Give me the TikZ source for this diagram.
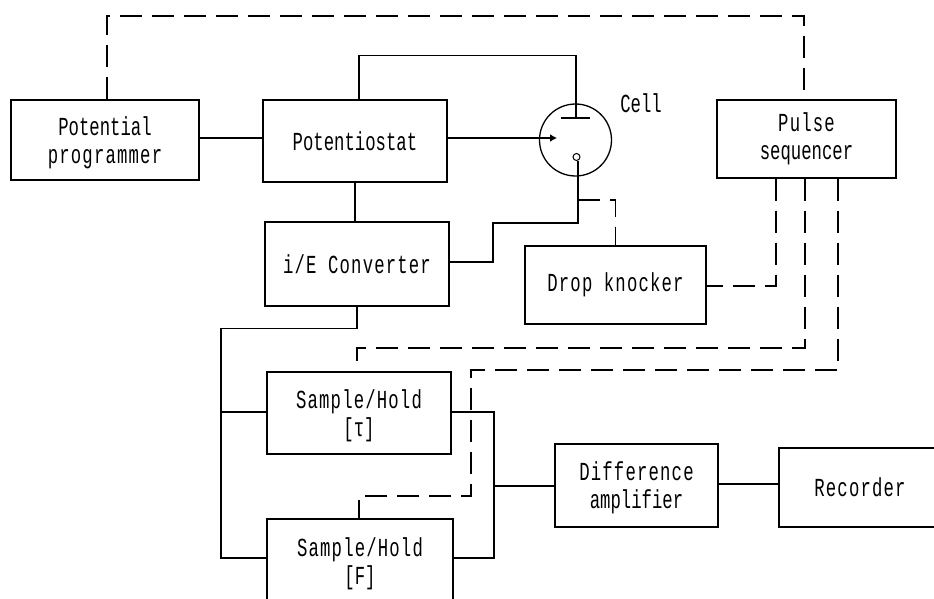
\documentclass[tikz,border=0pt]{standalone}
\usepackage{fontspec}
\usetikzlibrary{arrows.meta}
\newfontfamily\labelfont[FakeStretch=0.665]{Liberation Mono}
\newfontfamily\widefont[FakeStretch=0.665,LetterSpace=4.5]{Liberation Mono}
\newcommand{\lowline}{\rule{0pt}{24pt}}
\tikzset{
    blockbox/.style={draw, line width=1.3pt, inner sep=0pt, align=center, font=\labelfont\fontsize{26}{28}\selectfont},
    wire/.style={line width=1.3pt},
    dashwire/.style={line width=1.3pt, dash pattern=on 22pt off 10pt}
}
\begin{document}
\begin{tikzpicture}[x=1pt, y=-1pt]
        \useasboundingbox (0,0) rectangle (934,599);
        \clip (0,0) rectangle (934,599);

        % Draw blocks
        \node[blockbox, minimum width=188pt, minimum height=80pt] (prog) at (105,140) {\lowline Potential\\{\widefont programmer}};
        \node[blockbox, minimum width=184pt, minimum height=82pt] (pot) at (355,141) {Potentiostat};
        \node[blockbox, minimum width=184pt, minimum height=84pt] (conv) at (357,264) {\widefont i/E Converter};
        \node[blockbox, minimum width=181pt, minimum height=78pt] (knock) at (615.5,285) {\widefont Drop knocker};
        \node[blockbox, minimum width=179pt, minimum height=78pt] (pulse) at (806.5,139) {\widefont Pulse\\sequencer};
        \node[blockbox, minimum width=184pt, minimum height=82pt] (holdt) at (359,413) {\widefont\lowline Sample/Hold\\{[τ]}};
        \node[blockbox, minimum width=186pt, minimum height=84pt] (holdf) at (360,561) {\widefont\lowline Sample/Hold\\{[F]}};
        \node[blockbox, minimum width=163pt, minimum height=83pt] (diff) at (636.5,485.5) {\widefont\lowline Difference\\amplifier};
        \node[blockbox, minimum width=162pt, minimum height=79pt] (rec) at (860,487.5) {\widefont Recorder};

        % Draw cell
        \node[draw, wire, circle, inner sep=0pt, minimum size=72pt] (cell) at (575.5,140) {};
        \node[draw, line width=1pt, circle, inner sep=0pt, minimum size=7pt] (drop) at (576.5,157) {};
        \node[font=\labelfont\fontsize{26}{28}\selectfont] (celltext) at (641,103) {Cell};
        \coordinate (plate) at (576,118);
        \coordinate (tip) at (557,138);
        \coordinate (branch) at (578,200);
        \draw[wire] ([xshift=-15pt]plate) -- ([xshift=14pt]plate);

        % Draw solid connectors
        \draw[wire] ([yshift=2pt]prog.east) -- ([yshift=2pt]prog.east -| pot.west);
        \draw[wire] ([xshift=4pt]pot.north) -- ++(0,-44) -| (plate);
        \draw[wire, -{Latex[length=7pt,width=8pt]}] ([yshift=3pt]pot.east) -- (tip);
        \draw[wire] (pot.south) -- (pot.south |- conv.north);
        \draw[wire] (drop.south -| branch) -- ++(0,62) -| (493,262) -- (conv.east |- 0,262);
        \draw[wire] (conv.south) -- ++(0,22) -| (221,558) -- ([yshift=3pt]holdf.west);
        \draw[wire] (221,412) -- ([yshift=1pt]holdt.west);
        \draw[wire] ([yshift=1pt]holdt.east) -| (494,558) -- ([yshift=3pt]holdf.east);
        \draw[wire] (494,486) -- (494,486 -| diff.west);
        \draw[wire] ([yshift=1.5pt]diff.east) -- ([yshift=1.5pt]diff.east -| rec.west);

        % Draw dashed connectors
        \draw[dashwire] (branch) -| (knock.north);
        \draw[dashwire] ([xshift=2pt]prog.north) |- (804,16) -- (804,100);
        \draw[dashwire] ([xshift=-30.5pt]pulse.south) -- (776,286) -- (knock.east |- 0,286);
        \draw[dashwire] ([xshift=-1.5pt]pulse.south) -- (805,348) -| ([xshift=-2pt]holdt.north);
        \draw[dashwire] ([xshift=31.5pt]pulse.south) -- (838,370) -| (471,496) -| ([xshift=-1pt]holdf.north);
    \end{tikzpicture}
\end{document}
